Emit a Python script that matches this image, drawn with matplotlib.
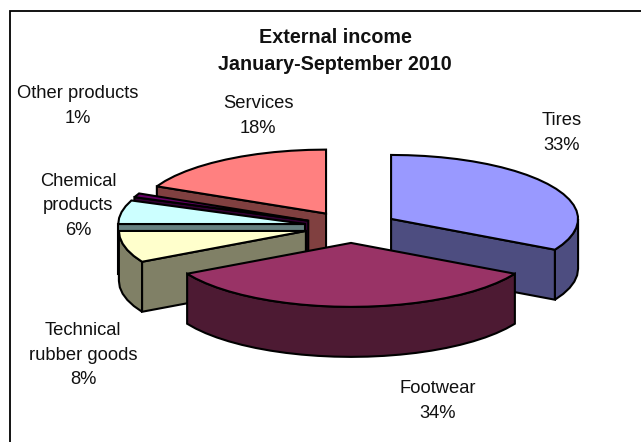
import numpy as np
import matplotlib
matplotlib.use("Agg")
import matplotlib.pyplot as plt

plt.rcParams["font.family"] = ["Liberation Sans", "DejaVu Sans"]

# Income shares, in clockwise order from twelve o'clock
categories = ["Tires", "Footwear", "Technical\nrubber goods", "Chemical\nproducts",
              "Other products", "Services"]
shares = [33, 34, 8, 6, 1, 18]
top_colors = ["#9999FF", "#993366", "#FFFFCC", "#CCFFFF", "#660066", "#FF8080"]
side_colors = ["#4D4D80", "#4D1A33", "#808066", "#668080", "#330033", "#804040"]
title_lines = "External income\nJanuary-September 2010"

# Label anchors in figure pixels (x centre, y centre, measured from the top left)
label_centres = [(562, 133), (438, 401), (83, 355), (78, 206), (78, 106), (258, 116)]

W, H = 641, 442
RADIUS_PX = 187.0
CX_PX, CY_PX = 351.0, 227.0
TILT = 0.342          # vertical squash of the pie disc
DEPTH = 50.0 / RADIUS_PX
EXPLODE = 0.249       # slice offset along its bisector
LW = 1.5

fig = plt.figure(figsize=(W / 100, H / 100), dpi=100, facecolor="white")
ax = fig.add_axes([0, 0, 1, 1])
ax.set_xlim(-CX_PX / RADIUS_PX, (W - CX_PX) / RADIUS_PX)
ax.set_ylim(-(H - CY_PX) / RADIUS_PX, CY_PX / RADIUS_PX)
ax.axis("off")


def rim(theta_deg):
    """Projected disc point for a clockwise angle measured from the top."""
    t = np.radians(theta_deg)
    return np.column_stack([np.sin(t), TILT * np.cos(t)])


def arc_angles(a, b):
    return np.linspace(a, b, max(2, int(abs(b - a) / 5.0) + 1))


def extrude(points):
    """Closed wall between a top outline and the same outline lowered by DEPTH."""
    lowered = points[::-1] - np.array([0, DEPTH])
    return np.vstack([points, lowered])


def patch(points, color, z):
    ax.fill(points[:, 0], points[:, 1], facecolor=color, edgecolor="black",
            linewidth=LW, joinstyle="miter", zorder=z)


fractions = np.array(shares) / sum(shares)
ends = np.cumsum(fractions) * 360
starts = ends - fractions * 360

# Painter's order: slices further from the viewer go down first
mids = (starts + ends) / 2
order = np.argsort(-np.cos(np.radians(mids)))

for rank, i in enumerate(order):
    start, end = starts[i], ends[i]
    offset = EXPLODE * rim(np.array([mids[i]]))[0]
    apex = offset[None, :]
    z = 2 + rank * 5

    # Radial walls: only those turned towards the viewer are drawn
    sin_start, sin_end = np.sin(np.radians(start)), np.sin(np.radians(end))
    if sin_start < -1e-9:
        edge = np.vstack([apex, apex + rim(np.array([start]))])
        patch(extrude(edge), side_colors[i], z)
    if sin_end > 1e-9:
        edge = np.vstack([apex, apex + rim(np.array([end]))])
        patch(extrude(edge), side_colors[i], z + 1)

    # Outer wall, only over the part of the rim that faces the viewer
    lo, hi = max(start, 90), min(end, 270)
    if hi > lo:
        patch(extrude(offset + rim(arc_angles(lo, hi))), side_colors[i], z + 2)

    # Top surface
    patch(np.vstack([apex, offset + rim(arc_angles(start, end))]), top_colors[i], z + 3)


def to_data(px, py):
    return (px - CX_PX) / RADIUS_PX, (CY_PX - py) / RADIUS_PX


for name, share, (px, py) in zip(categories, shares, label_centres):
    x, y = to_data(px, py)
    ax.text(x, y, f"{name}\n{share}%", ha="center", va="center", fontsize=13.2,
            color="#111111", linespacing=1.58, zorder=100)

tx, ty = to_data(335, 51)
ax.text(tx, ty, title_lines, ha="center", va="center", fontsize=14.2, fontweight="bold",
        color="#111111", linespacing=1.5, zorder=100)

# Chart area border: only the top and left edges fall inside the canvas
x0, y0 = to_data(10, 11)
x_right, _ = to_data(W + 2, 0)
_, y_bottom = to_data(0, H + 2)
ax.plot([x_right, x0, x0], [y0, y0, y_bottom], color="black", linewidth=1.3,
        zorder=101, solid_joinstyle="miter")

fig.savefig("out.png", dpi=100, facecolor="white")
